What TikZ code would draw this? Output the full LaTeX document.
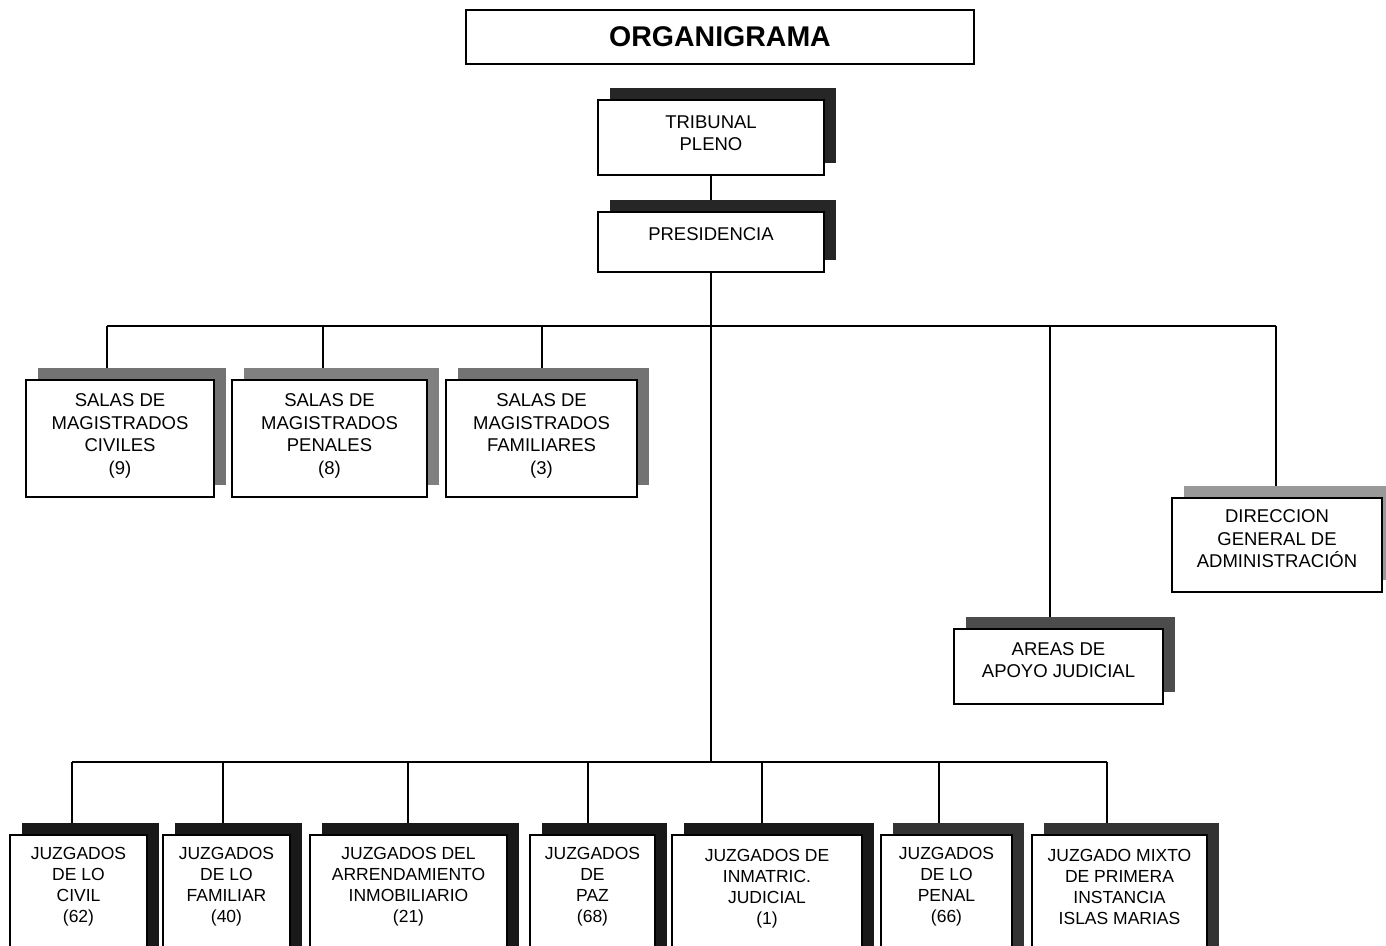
\documentclass[tikz,border=0pt]{standalone}
\usepackage{fontspec}
\setmainfont{Liberation Sans}
\usetikzlibrary{shadows,backgrounds}

\tikzset{
  orgrect/.style={draw=black, line width=1.5pt, fill=white, inner sep=0pt},
  orgtxt/.style={align=center, inner sep=0pt, font=\fontsize{18.5}{22.5}\selectfont},
  lowtxt/.style={align=center, inner sep=0pt, font=\fontsize{17.5}{21}\selectfont},
  link/.style={draw=black, line width=1.3pt},
}

% box with a solid offset shadow: name, x1, y1, x2, y2, shadow colour, text y, text style, text
\newcommand\orgbox[9]{%
  \pgfmathsetmacro\obw{#4-#2}%
  \pgfmathsetmacro\obh{#5-#3}%
  \pgfmathsetmacro\obx{(#2+#4)/2}%
  \pgfmathsetmacro\oby{(#3+#5)/2}%
  \node[orgrect, minimum width=\obw pt, minimum height=\obh pt,
        drop shadow={shadow xshift=12pt, shadow yshift=12pt, fill=#6, opacity=1}]
        (#1) at (\obx,\oby) {};
  \node[#8] (#1-t) at (\obx,#7) {#9};%
}

\begin{document}
\begin{tikzpicture}[x=1pt, y=-1pt]
\useasboundingbox (0,0) rectangle (1386,945);
\clip (0,0) rectangle (1386,945);

% title
\node[draw=black, line width=1.3pt, minimum width=508pt, minimum height=54pt,
      font=\fontsize{28.5}{30}\selectfont\bfseries] (title) at (720,37) {ORGANIGRAMA};

% top of the hierarchy
\orgbox{trib}{598}{100}{824}{175}{black!85}{133}{orgtxt}{TRIBUNAL\\PLENO}
\orgbox{pres}{598}{212}{824}{272}{black!85}{234}{orgtxt}{PRESIDENCIA}

% chambers of magistrates
\orgbox{salc}{26}{380}{214}{497}{black!55}{436}{orgtxt}{SALAS DE\\MAGISTRADOS\\CIVILES\\(9)}
\orgbox{salp}{232}{380}{427}{497}{black!50}{436}{orgtxt}{SALAS DE\\MAGISTRADOS\\PENALES\\(8)}
\orgbox{salf}{446}{380}{637}{497}{black!55}{436}{orgtxt}{SALAS DE\\MAGISTRADOS\\FAMILIARES\\(3)}

% administration and support
\orgbox{dga}{1172}{498}{1382}{592}{black!40}{539}{orgtxt}{DIRECCION\\GENERAL DE\\ADMINISTRACIÓN}
\orgbox{apo}{954}{629}{1163}{704}{black!70}{660}{orgtxt}{AREAS DE\\APOYO JUDICIAL}

% courts of first instance
\orgbox{jciv}{10}{835}{147}{970}{black!90}{887}{lowtxt}{JUZGADOS\\DE LO\\CIVIL\\(62)}
\orgbox{jfam}{163}{835}{290}{970}{black!90}{887}{lowtxt}{JUZGADOS\\DE LO\\FAMILIAR\\(40)}
\orgbox{jarr}{310}{835}{507}{970}{black!90}{887}{lowtxt}{JUZGADOS DEL\\ARRENDAMIENTO\\INMOBILIARIO\\(21)}
\orgbox{jpaz}{530}{835}{655}{970}{black!90}{887}{lowtxt}{JUZGADOS\\DE\\PAZ\\(68)}
\orgbox{jinm}{672}{835}{862}{970}{black!90}{889}{lowtxt}{JUZGADOS DE\\INMATRIC.\\JUDICIAL\\(1)}
\orgbox{jpen}{881}{835}{1012}{970}{black!80}{887}{lowtxt}{JUZGADOS\\DE LO\\PENAL\\(66)}
\orgbox{jmix}{1032}{835}{1207}{970}{black!80}{887}{lowtxt}{JUZGADO MIXTO\\DE PRIMERA\\INSTANCIA\\ISLAS MARIAS}

% upper bus: branch points
\coordinate (u1) at (107,326);
\coordinate (u2) at (323,326);
\coordinate (u3) at (542,326);
\coordinate (u4) at (1050,326);
\coordinate (u5) at (1276,326);
% lower bus: branch points
\coordinate (l1) at (72,762);
\coordinate (l2) at (223,762);
\coordinate (l3) at (408,762);
\coordinate (l4) at (588,762);
\coordinate (l5) at (762,762);
\coordinate (l6) at (939,762);
\coordinate (l7) at (1107,762);
\coordinate (lM) at (711,762);

\begin{pgfonlayer}{background}
  \draw[link] (trib.south) -- (pres.north);
  \draw[link] (pres.south) -- (lM);
  % upper bus and its drops
  \draw[link] (u1) -- (u5);
  \draw[link] (u1) -- (u1 |- salc.north);
  \draw[link] (u2) -- (u2 |- salp.north);
  \draw[link] (u3) -- (u3 |- salf.north);
  \draw[link] (u4) -- (u4 |- apo.north);
  \draw[link] (u5) -- (u5 |- dga.north);
  % lower bus and its drops
  \draw[link] (l1) -- (l7);
  \draw[link] (l1) -- (l1 |- jciv.north);
  \draw[link] (l2) -- (l2 |- jfam.north);
  \draw[link] (l3) -- (l3 |- jarr.north);
  \draw[link] (l4) -- (l4 |- jpaz.north);
  \draw[link] (l5) -- (l5 |- jinm.north);
  \draw[link] (l6) -- (l6 |- jpen.north);
  \draw[link] (l7) -- (l7 |- jmix.north);
\end{pgfonlayer}
\end{tikzpicture}
\end{document}
